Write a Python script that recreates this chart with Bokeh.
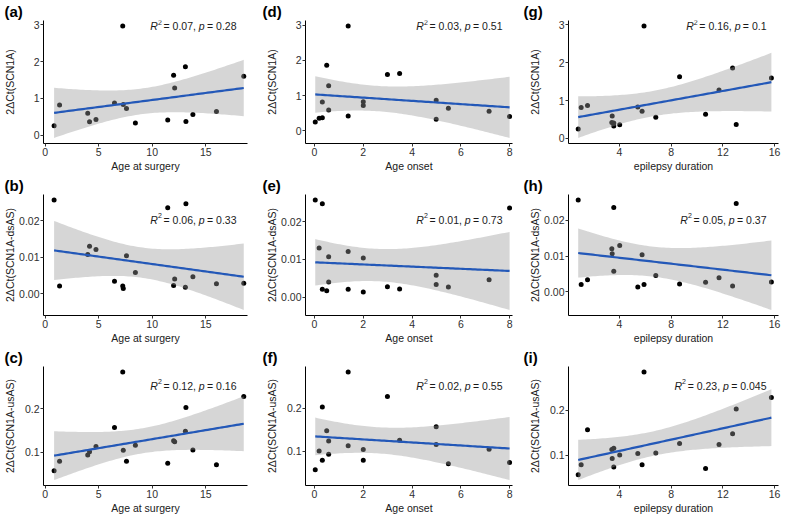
import numpy as np
from bokeh.plotting import figure
from bokeh.layouts import gridplot
from bokeh.models import Range1d, FixedTicker, Label, Title
from bokeh.embed import file_html
from bokeh.resources import INLINE

# ---------------- data (one entry per patient) ----------------
age_surgery = [0.84, 7.25, 13.1, 12.0, 18.55, 12.1, 1.35, 7.3, 6.48, 7.6, 16.0, 3.98, 13.8, 4.75, 11.45, 4.15, 8.43, 13.15]
age_onset = [0.03, 1.38, 0.5, 3.49, 2.99, 0.58, 0.32, 2.0, 4.99, 2.0, 5.49, 0.58, 7.16, 1.38, 8.0, 0.19, 4.99, 0.32]
duration = [0.81, 5.9, 12.75, 8.65, 15.75, 11.7, 1.04, 5.42, 1.53, 5.75, 10.66, 3.44, 6.81, 3.41, 3.56, 4.02, 3.56, 13.03]

scn1a = [0.25, 2.97, 1.86, 1.63, 1.60, 1.28, 0.82, 0.83, 0.87, 0.72, 0.64, 0.59, 0.56, 0.42, 0.41, 0.36, 0.33, 0.37]
dsas = [0.0257, 0.0021, 0.0017, 0.0022, 0.0028, 0.0040, 0.0021, 0.0014, 0.0034, 0.0104, 0.0027, 0.0107, 0.0046, 0.0121, 0.0236, 0.0130, 0.0058, 0.0247]
usas = [0.057, 0.285, 0.148, 0.126, 0.228, 0.124, 0.079, 0.104, 0.157, 0.079, 0.071, 0.093, 0.105, 0.113, 0.074, 0.101, 0.116, 0.203]

x_names = ["Age at surgery", "Age onset", "epilepsy duration"]
y_names = ["2ΔCt(SCN1A)", "2ΔCt(SCN1A-dsAS)", "2ΔCt(SCN1A-usAS)"]
x_ticks = [[0, 5, 10, 15], [0, 2, 4, 6, 8], [4, 8, 12, 16]]
y_ticks = [[0, 1, 2, 3], [0.0, 0.01, 0.02], [0.1, 0.2]]
y_tick_labels = [{0: "0", 1: "1", 2: "2", 3: "3"},
                 {0.0: "0.00", 0.01: "0.01", 0.02: "0.02"},
                 {0.1: "0.1", 0.2: "0.2"}]
panel_letters = [["(a)", "(d)", "(g)"], ["(b)", "(e)", "(h)"], ["(c)", "(f)", "(i)"]]
r2_values = [["0.07", "0.03", "0.16"], ["0.06", "0.01", "0.05"], ["0.12", "0.02", "0.23"]]
p_values = [["0.28", "0.51", "0.1"], ["0.33", "0.73", "0.37"], ["0.16", "0.55", "0.045"]]

xs_all = [age_surgery, age_onset, duration]
ys_all = [scn1a, dsas, usas]

# ---------------- layout / style ----------------
FONT = "Liberation Sans"
X_RANGES = [(-0.15, 18.9), (-0.37, 8.12), (0.06, 16.3)]
BORDER_LR = [(40, 14), (44, 10), (46, 5)]
YLAB_STANDOFF = [15, 0, 6]
TEXT_YFRAC = [0.955, 0.79, 0.84]
TEXT_RPAD = [11, 10, 12]
ROW_H = [174, 172, 170]
T975 = 2.1199  # t quantile, df = 16

# Arial/Liberation Sans advance widths (em)
W = {" ": 0.278, ",": 0.278, ".": 0.278, "=": 0.584, "R": 0.722, "p": 0.556}
for d in "0123456789":
    W[d] = 0.556


def text_width(s, fs):
    return sum(W.get(ch, 0.556) for ch in s) * fs


def fit_band(x, y):
    x = np.asarray(x, float)
    y = np.asarray(y, float)
    n = len(x)
    b1, b0 = np.polyfit(x, y, 1)
    res = y - (b0 + b1 * x)
    s = np.sqrt(np.sum(res ** 2) / (n - 2))
    sxx = np.sum((x - x.mean()) ** 2)
    gx = np.linspace(x.min(), x.max(), 80)
    gy = b0 + b1 * gx
    se = s * np.sqrt(1.0 / n + (gx - x.mean()) ** 2 / sxx)
    return gx, gy, gy - T975 * se, gy + T975 * se


figs = []
for r in range(3):
    row = []
    for c in range(3):
        x = xs_all[c]
        y = ys_all[r]
        gx, gy, lo, hi = fit_band(x, y)
        ymin = min(min(y), lo.min())
        ymax = max(max(y), hi.max())
        pad = 0.05 * (ymax - ymin)
        yr = (ymin - pad, ymax + pad)
        xr = X_RANGES[c]

        p = figure(width=261, height=ROW_H[r], output_backend="svg", toolbar_location=None,
                   x_range=Range1d(*xr), y_range=Range1d(*yr),
                   min_border_left=BORDER_LR[c][0], min_border_right=BORDER_LR[c][1],
                   min_border_top=0, min_border_bottom=0)
        p.outline_line_color = None
        p.xgrid.visible = False
        p.ygrid.visible = False
        p.background_fill_color = "white"
        p.border_fill_color = "white"

        t = Title(text=panel_letters[r][c], align="left", offset=-(BORDER_LR[c][0] - 1),
                  text_font=FONT, text_font_size="15px", text_font_style="bold",
                  text_color="black", standoff=1, text_line_height=1.0)
        p.add_layout(t, "above")

        for ax in (p.xaxis[0], p.yaxis[0]):
            ax.axis_line_color = "black"
            ax.axis_line_width = 1
            ax.major_tick_line_color = "#333333"
            ax.major_tick_out = 3
            ax.major_tick_in = 0
            ax.minor_tick_line_color = None
            ax.major_label_text_font = FONT
            ax.major_label_text_font_size = "10.5px"
            ax.major_label_text_color = "#303030"
            ax.major_label_text_line_height = 1.0
            ax.major_label_standoff = 1
            ax.axis_label_text_font = FONT
            ax.axis_label_text_font_size = "10.5px"
            ax.axis_label_text_font_style = "normal"
            ax.axis_label_text_color = "#202020"
            ax.axis_label_text_line_height = 1.0

        p.xaxis[0].ticker = FixedTicker(ticks=x_ticks[c])
        p.xaxis[0].axis_label = x_names[c]
        p.xaxis[0].axis_label_standoff = 1
        p.yaxis[0].ticker = FixedTicker(ticks=y_ticks[r])
        p.yaxis[0].major_label_overrides = y_tick_labels[r]
        p.yaxis[0].axis_label = y_names[r]
        p.yaxis[0].axis_label_standoff = YLAB_STANDOFF[r]

        # points first, then ribbon over them (as in the reference), then the fit line
        p.scatter(x, y, size=5, color="black", line_color=None)
        p.varea(x=gx, y1=lo, y2=hi, fill_color="#999999", fill_alpha=0.4)
        p.line(gx, gy, line_color="#2358B8", line_width=2.2)

        # statistics text: "R² = .., p = .." with italic R and p
        fs = 10.5
        sp = W[" "] * fs
        pieces = [("R", fs, "italic", 0, 0.0),
                  ("2", 7.0, "normal", 4, 0.0),
                  ("= " + r2_values[r][c] + ",", fs, "normal", 0, sp * 0.6),
                  ("p", fs, "italic", 0, sp),
                  ("= " + p_values[r][c], fs, "normal", 0, sp * 0.8)]
        total = sum(text_width(s, f) + g for s, f, _, _, g in pieces)
        ty = yr[0] + TEXT_YFRAC[r] * (yr[1] - yr[0])
        cum = -TEXT_RPAD[c] - total
        for s, f, style, dy, gap in pieces:
            cum += gap
            lab = Label(x=xr[1], y=ty, x_offset=cum, y_offset=dy, text=s,
                        text_font=FONT, text_font_size=f"{f}px", text_font_style=style,
                        text_color="#1a1a1a", text_baseline="middle", text_align="left")
            p.add_layout(lab)
            cum += text_width(s, f)
        row.append(p)
    figs.append(row)

grid = gridplot(figs, toolbar_location=None)
open("out.html", "w").write(file_html(grid, INLINE))
